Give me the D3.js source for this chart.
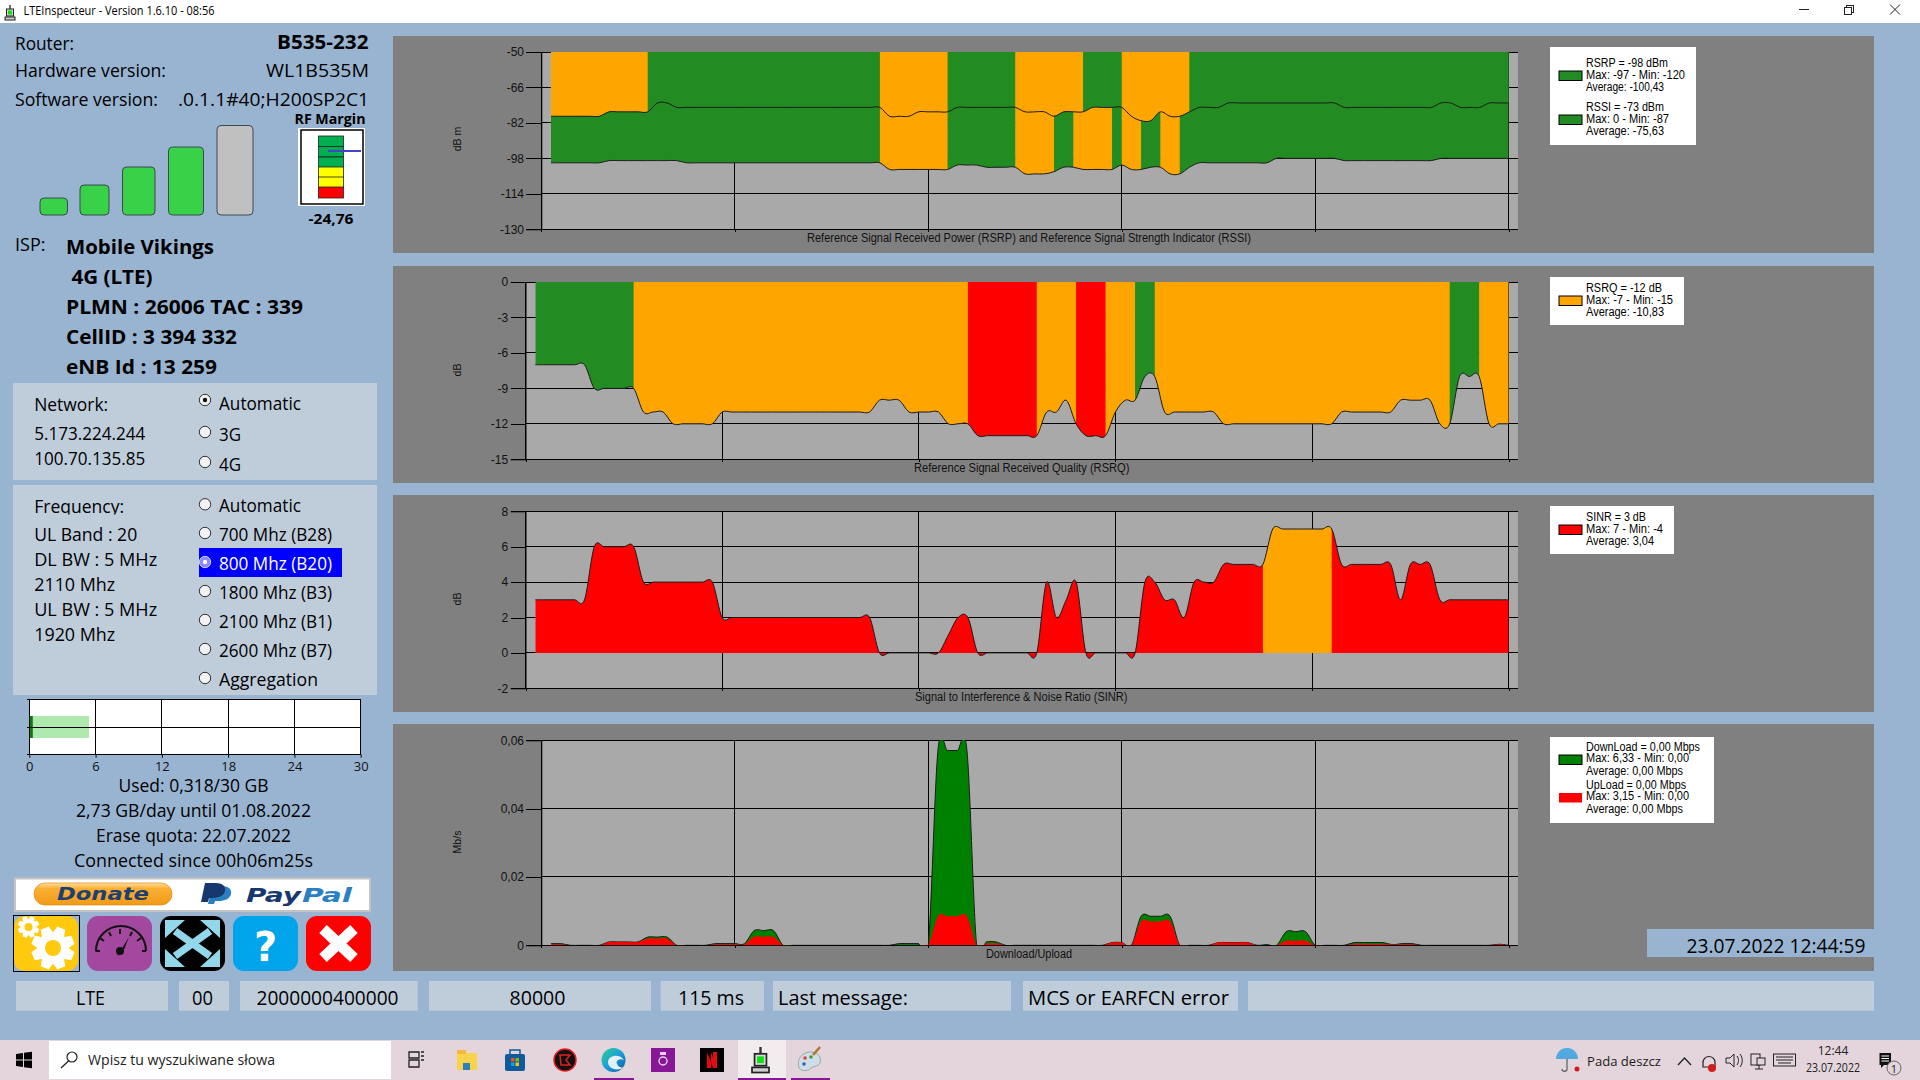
<!DOCTYPE html>
<html>
<head>
<meta charset="utf-8">
<title>LTEInspecteur</title>
<script src="https://cdn.jsdelivr.net/npm/d3@7"></script>
<style>
html,body{margin:0;padding:0;background:#99b4d1;overflow:hidden}
svg{display:block}
text{white-space:pre}
</style>
</head>
<body>
<script>
// ---------- chart data (samples 1..100) ----------
const rssi = [
 -79,-79,-79,-79,-79,-79,-77,-77,-77,-77,
 -77,-73,-73,-75,-75,-75,-75,-75,-75,-75,
 -75,-75,-75,-75,-75,-75,-75,-75,-75,-75,
 -75,-75,-75,-75,-75,-79,-79,-79,-77,-77,
 -77,-77,-75,-75,-75,-75,-75,-75,-75,-77,
 -77,-77,-79,-77,-77,-77,-75,-75,-75,-75,
 -79,-81,-81,-77,-79,-79,-77,-75,-75,-75,
 -73,-73,-73,-73,-73,-73,-73,-73,-73,-73,
 -73,-73,-75,-75,-75,-75,-75,-75,-75,-75,
 -75,-75,-73,-73,-75,-75,-75,-73,-73,-73];
const rsrp = [
 -100,-100,-100,-100,-100,-100,-99,-99,-99,-99,
 -99,-99,-99,-99,-100,-100,-100,-100,-100,-100,
 -100,-100,-100,-100,-100,-100,-100,-100,-100,-100,
 -100,-100,-100,-100,-100,-103,-103,-103,-103,-103,
 -103,-103,-101,-101,-101,-102,-102,-102,-102,-105,
 -105,-105,-104,-102,-102,-103,-103,-103,-103,-101,
 -103,-103,-102,-102,-105,-105,-102,-100,-100,-100,
 -100,-100,-100,-100,-100,-98,-98,-98,-98,-98,
 -98,-98,-99,-99,-99,-99,-99,-99,-99,-99,
 -99,-99,-98,-98,-98,-98,-98,-98,-98,-98];
const rsrq = [
 -7,-7,-7,-7,-7,-7,-9,-9,-9,-9,
 -9,-11,-11,-11,-12,-12,-12,-12,-12,-11,
 -11,-11,-11,-11,-11,-11,-11,-11,-11,-11,
 -11,-11,-11,-11,-11,-10,-10,-10,-11,-11,
 -11,-11,-12,-12,-12,-13,-13,-13,-13,-13,
 -13,-13,-11,-11,-10,-12,-13,-13,-13,-11,
 -10,-10,-8,-8,-11,-11,-11,-11,-11,-11,
 -12,-12,-12,-12,-12,-12,-12,-12,-12,-12,
 -12,-12,-11,-11,-11,-11,-11,-11,-10,-10,
 -10,-10,-12,-12,-8,-8,-8,-12,-12,-12];
const sinr = [
 3,3,3,3,3,3,6,6,6,6,
 6,4,4,4,4,4,4,4,4,2,
 2,2,2,2,2,2,2,2,2,2,
 2,2,2,2,2,0,0,0,0,0,
 0,0,1,2,2,0,0,0,0,0,
 0,0,4,2,3,4,0,0,0,0,
 0,0,4,4,3,3,2,4,4,4,
 5,5,5,5,5,7,7,7,7,7,
 7,7,5,5,5,5,5,5,3,5,
 5,5,3,3,3,3,3,3,3,3];
const download = [
 .0005,.0005,0,0,0,0,.001,.001,.001,.001,
 .0024,.0024,.0024,0,0,0,0,.0005,.0005,.0005,
 .0005,.0043,.0043,.0043,0,0,0,0,0,0,
 0,0,0,0,0,0,.0005,.0005,.0005,0,
 .057,.057,.057,.057,0,.001,.001,0,0,0,
 0,0,0,0,0,0,0,0,.0008,.0008,
 0,.0085,.0085,.0085,.0085,0,0,0,0,.0008,
 .0008,.0008,.0008,0,.0002,0,.004,.004,.004,0,
 0,0,0,.0008,.0008,.0008,.0008,.0002,.0005,.0005,
 0,0,0,0,0,0,0,0,.0003,0];
const upload = [
 .0003,.0003,0,0,0,0,.001,.001,.001,.001,
 .002,.002,.002,0,0,0,0,.0003,.0003,.0003,
 .0003,.0025,.0025,.0025,0,0,0,0,0,0,
 0,0,0,0,0,0,0,0,0,0,
 .0085,.0085,.0085,.0085,0,.0005,.0005,0,0,0,
 0,0,0,0,0,0,0,0,.0008,.0008,
 0,.007,.007,.007,.007,0,0,0,0,.0008,
 .0008,.0008,.0008,0,0,0,.0013,.0013,.0013,0,
 0,0,0,.0004,.0004,.0004,.0004,.0002,.0003,.0003,
 0,0,0,0,0,0,0,0,.0003,0];

const rsrpTicks = [-50,-66,-82,-98,-114,-130];
const rsrqTicks = [0,-3,-6,-9,-12,-15];
const sinrTicks = [8,6,4,2,0,-2];
const rateTicks = [0.06,0.04,0.02,0];
const sampleTicks = [0,20,40,60,80,100];
const quotaTicks = [0,6,12,18,24,30];
const quotaUsed = 0.318;
const quotaExpected = 5.4;

const legendRsrp = ["RSRP = -98 dBm","Max: -97 - Min: -120","Average: -100,43"];
const legendRssi = ["RSSI = -73 dBm","Max: 0 - Min: -87","Average: -75,63"];
const legendRsrq = ["RSRQ = -12 dB","Max: -7 - Min: -15","Average: -10,83"];
const legendSinr = ["SINR = 3 dB","Max: 7 - Min: -4","Average: 3,04"];
const legendDown = ["DownLoad = 0,00 Mbps","Max: 6,33 - Min: 0,00","Average: 0,00 Mbps"];
const legendUp   = ["UpLoad = 0,00 Mbps","Max: 3,15 - Min: 0,00","Average: 0,00 Mbps"];

// ---------- palette ----------
const BG="#99b4d1", BOX="#bfcddb", PANEL="#808080", PLOT="#a9a9a9";
const GOOD="#228b22", FAIR="#ffa500", BAD="#ff0000", DL="#008000", UL="#ff0000";
const UI="'Open Sans','Noto Sans',sans-serif";
const CH="'Liberation Sans',Arial,sans-serif";

const svg=d3.select("body").append("svg").attr("width",1920).attr("height",1080);
const defs=svg.append("defs");
svg.append("rect").attr("width",1920).attr("height",1080).attr("fill",BG);

function txt(p,x,y,s,o={}){
  const t=p.append("text").attr("x",x).attr("y",y).text(s)
    .attr("font-family",o.family||UI).attr("font-size",o.size||18)
    .attr("fill",o.fill||"#000").attr("text-anchor",o.anchor||"start");
  if(o.bold)t.attr("font-weight","bold");
  if(o.italic)t.attr("font-style","italic");
  if(o.len)t.attr("textLength",o.len).attr("lengthAdjust","spacingAndGlyphs");
  return t;
}
function rect(p,x,y,w,h,fill,o={}){
  const r=p.append("rect").attr("x",x).attr("y",y).attr("width",w).attr("height",h).attr("fill",fill);
  if(o.rx)r.attr("rx",o.rx);
  if(o.stroke)r.attr("stroke",o.stroke).attr("stroke-width",o.sw||1);
  return r;
}
function path(p,d,fill,o={}){
  const r=p.append("path").attr("d",d).attr("fill",fill);
  if(o.stroke)r.attr("stroke",o.stroke).attr("stroke-width",o.sw||1);
  return r;
}

// ---------- generic chart ----------
let clipId=0;
function chart(cfg){
  const g=svg.append("g");
  rect(g,393,cfg.panel[0],1481,cfg.panel[1]-cfg.panel[0],PANEL);
  const x=d3.scaleLinear().domain([0,100]).range([cfg.left,1508.7]);
  const y=d3.scaleLinear().domain(cfg.domain).range([cfg.top,cfg.bottom]);
  rect(g,cfg.left,cfg.top,1518-cfg.left,cfg.bottom-cfg.top,PLOT);
  // grid, under the areas
  const grid=g.append("g").attr("stroke","#000").attr("stroke-width",1).attr("shape-rendering","crispEdges");
  cfg.ticks.forEach(v=>grid.append("line").attr("x1",cfg.left).attr("x2",1518).attr("y1",y(v)).attr("y2",y(v)));
  sampleTicks.forEach(v=>grid.append("line").attr("x1",x(v)).attr("x2",x(v)).attr("y1",cfg.top).attr("y2",cfg.bottom));
  // plot clip
  const cid="plot"+(clipId++);
  defs.append("clipPath").attr("id",cid).append("rect")
    .attr("x",cfg.left).attr("y",cfg.top).attr("width",1518-cfg.left).attr("height",cfg.bottom-cfg.top);
  const plot=g.append("g").attr("clip-path",`url(#${cid})`);
  const curve=d3.curveCardinal.tension(0);
  cfg.layers.forEach(l=>{
    const pts=l.values.map((v,i)=>[i+1,v]);
    const area=d3.area().curve(curve).x(d=>x(d[0])).y1(d=>y(d[1])).y0(y(l.base));
    const line=d3.line().curve(curve).x(d=>x(d[0])).y(d=>y(d[1]));
    // split the area in runs of one colour; a segment takes the colour of its right point
    const n=l.values.length;
    let start=0;
    for(let i=1;i<=n;i++){
      if(i===n||l.color(l.values[i])!==l.color(l.values[start+1])){
        const c="seg"+(clipId++);
        defs.append("clipPath").attr("id",c).append("rect")
          .attr("x",x(start+1)).attr("width",x(i)-x(start+1)+(i===n?0:0.3))
          .attr("y",cfg.top-5).attr("height",cfg.bottom-cfg.top+10);
        plot.append("g").attr("clip-path",`url(#${c})`).append("path")
          .attr("d",area(pts)).attr("fill",l.color(l.values[Math.min(start+1,n-1)]));
        start=i-1;
      }
    }
    if(l.outline)plot.append("path").attr("d",line(pts)).attr("fill","none").attr("stroke","#1c1c1c").attr("stroke-width",1);
  });
  // axes
  const ax=g.append("g").attr("transform",`translate(${cfg.left},0)`)
    .call(d3.axisLeft(y).tickValues(cfg.ticks).tickSize(14.8).tickPadding(2.5).tickFormat(cfg.fmt||(d=>d)));
  ax.select(".domain").attr("stroke","#000");
  ax.selectAll("line").attr("stroke","#000").attr("shape-rendering","crispEdges");
  ax.selectAll("text").attr("font-family",CH).attr("font-size",12).attr("fill","#111");
  const bx=g.append("g").attr("transform",`translate(0,${cfg.bottom})`)
    .call(d3.axisBottom(x).tickValues(sampleTicks).tickSize(3).tickFormat(""));
  bx.select(".domain").remove();
  bx.selectAll("line").attr("stroke","#000").attr("shape-rendering","crispEdges");
  // titles
  txt(g,cfg.titleX,cfg.titleY,cfg.title,{family:CH,size:12,fill:"#111",len:cfg.titleW});
  g.append("text").attr("transform",`translate(${cfg.yTitleX},${cfg.yTitleY}) rotate(-90)`)
    .attr("text-anchor","middle").attr("font-family",CH).attr("font-size",10.5).attr("fill","#111").text(cfg.yTitle);
  // legend
  const L=cfg.legend;
  rect(g,1550,L.top,L.w,L.h,"#fff");
  L.rows.forEach(r=>{
    rect(g,1559,r.swY,23,9.5,r.color,r.border===false?{}:{stroke:"#000"});
    r.lines.forEach((s,i)=>txt(g,1586,r.base[i],s,{family:CH,size:12,fill:"#000",len:r.w[i]}));
  });
  return g;
}

const colRssi=v=>v>=-75?GOOD:FAIR;
const colRsrp=v=>v>=-102?GOOD:FAIR;
const colRsrq=v=>v>=-9?GOOD:(v>=-12?FAIR:BAD);
const colSinr=v=>v>=7?FAIR:BAD;

chart({panel:[36,253],left:541.3,top:52,bottom:229.3,domain:[-50,-130],ticks:rsrpTicks,
  layers:[{values:rsrp,base:-50,color:colRsrp,outline:true},{values:rssi,base:-50,color:colRssi,outline:true}],
  title:"Reference Signal Received Power (RSRP) and Reference Signal Strength Indicator (RSSI)",titleX:807,titleY:242,titleW:444,
  yTitle:"dB m",yTitleX:461,yTitleY:139,
  legend:{top:47,w:146,h:98,rows:[
    {color:GOOD,swY:71,lines:legendRsrp,base:[66.7,78.7,91.3],w:[82,99,78]},
    {color:GOOD,swY:115,lines:legendRssi,base:[110.7,122.7,135],w:[78,83,78]}]}});
chart({panel:[266,483],left:525.5,top:282,bottom:459.3,domain:[0,-15],ticks:rsrqTicks,
  layers:[{values:rsrq,base:0,color:colRsrq,outline:true}],
  title:"Reference Signal Received Quality (RSRQ)",titleX:914,titleY:472,titleW:215.5,
  yTitle:"dB",yTitleX:461,yTitleY:370,
  legend:{top:277,w:134,h:48,rows:[
    {color:FAIR,swY:296,lines:legendRsrq,base:[291.7,303.7,316],w:[76,87,78]}]}});
chart({panel:[495,712],left:525.5,top:511.3,bottom:688.3,domain:[8,-2],ticks:sinrTicks,
  layers:[{values:sinr,base:0,color:colSinr,outline:true}],
  title:"Signal to Interference & Noise Ratio (SINR)",titleX:915,titleY:701,titleW:212.5,
  yTitle:"dB",yTitleX:461,yTitleY:599,
  legend:{top:506,w:124,h:48,rows:[
    {color:BAD,swY:525,lines:legendSinr,base:[520.7,532.7,545],w:[60,77,68]}]}});
chart({panel:[724,971],left:541.3,top:740.3,bottom:945.3,domain:[0.06,0],ticks:rateTicks,
  fmt:d=>d===0?"0":d3.format(".2f")(d).replace(".",","),
  layers:[{values:download,base:0,color:()=>DL,outline:true},{values:upload,base:0,color:()=>UL,outline:false}],
  title:"Download/Upload",titleX:986,titleY:958,titleW:86,
  yTitle:"Mb/s",yTitleX:461,yTitleY:842,
  legend:{top:737,w:164,h:86,rows:[
    {color:DL,swY:755,lines:legendDown,base:[750.7,762.3,774.7],w:[114,103,97]},
    {color:UL,swY:793,border:false,lines:legendUp,base:[788.7,800.3,812.7],w:[100,103,97]}]}});

// ---------- title bar ----------
rect(svg,0,0,1920,23,"#fff");
function routerIcon(p,x,y,s){
  const g=p.append("g").attr("transform",`translate(${x},${y}) scale(${s})`);
  path(g,"M5 0V5","none",{stroke:"#333",sw:1.4});
  rect(g,1.5,4,7,7,"#d8d8d8",{stroke:"#222"});
  rect(g,3,5.5,4,4,"#10e010");
  rect(g,0,12,10,3,"#cfcfcf",{stroke:"#222"});
}
routerIcon(svg,5,5,1);
txt(svg,23.5,15,"LTEInspecteur - Version 1.6.10 - 08:56",{size:12,len:191});
path(svg,"M1799 9.5H1809","none",{stroke:"#222"});
rect(svg,1846.5,5.5,7,7,"none",{stroke:"#222"});
rect(svg,1844.5,7.5,7,7,"#fff",{stroke:"#222"});
path(svg,"M1890 4.5L1900 14.5M1900 4.5L1890 14.5","none",{stroke:"#222"});

// ---------- left column ----------
const L=svg.append("g");
txt(L,15,50,"Router:",{size:18,len:59});
txt(L,368.5,49,"B535-232",{size:20,bold:true,anchor:"end",len:91.5});
txt(L,15,77,"Hardware version:",{size:18,len:151});
txt(L,369,77,"WL1B535M",{size:19,anchor:"end",len:103});
txt(L,15,106,"Software version:",{size:18,len:143});
txt(L,369,106,".0.1.1#40;H200SP2C1",{size:19,anchor:"end",len:191});
txt(L,330,124,"RF Margin",{size:14,bold:true,anchor:"middle",len:71});
rect(L,298,128,67,78,"#fff");
rect(L,301,130,62,74,"#fff",{stroke:"#000",sw:1.5});
[["#00b050",136],["#00b050",146.5],["#00b050",157],["#ffff00",167],["#ffff00",177],["#ff0000",187]]
 .forEach(c=>rect(L,318.5,c[1],25,c[1]===187?11:10.5,c[0],{stroke:"#222",sw:0.8}));
path(L,"M328 151H361","none",{stroke:"#4343c4",sw:2});
txt(L,331,224,"-24,76",{size:15,bold:true,anchor:"middle",len:45});
[[40,198,27.5,17],[80,185,29,30],[122.5,167,32.5,48],[168.5,147,35,68]].forEach(b=>
  rect(L,b[0],b[1],b[2],b[3],"#38d148",{rx:4,stroke:"#3a4a50",sw:1}));
rect(L,217,125.5,36,89.5,"#c0c0c0",{rx:4,stroke:"#3a4a50",sw:1});
txt(L,15,251,"ISP:",{size:18});
txt(L,66,254,"Mobile Vikings",{size:20,bold:true,len:148});
txt(L,71.5,284,"4G (LTE)",{size:20,bold:true,len:81});
txt(L,66,314,"PLMN : 26006 TAC : 339",{size:20,bold:true,len:237});
txt(L,66,344,"CellID : 3 394 332",{size:20,bold:true,len:171});
txt(L,66,374,"eNB Id : 13 259",{size:20,bold:true,len:151});

rect(L,13,383,364,97,BOX);
rect(L,13,485,364,210,BOX);
function radio(p,y,on,sel){
  p.append("circle").attr("cx",205).attr("cy",y).attr("r",5.7)
   .attr("fill",sel?"#8a8aff":"#f2f2f2").attr("stroke",sel?"#ccd":"#333");
  if(on)p.append("circle").attr("cx",205).attr("cy",y).attr("r",2.2).attr("fill",sel?"#fff":"#111");
}
txt(L,34.2,411,"Network:",{size:17.5,len:74});
txt(L,34.2,440,"5.173.224.244",{size:17.5,len:111});
txt(L,34.2,465,"100.70.135.85",{size:17.5,len:111});
[[400,410,"Automatic",82,true],[432,441,"3G",22],[462,471,"4G",22]].forEach(r=>{
  radio(L,r[0],r[4]); txt(L,219,r[1],r[2],{size:17.5,len:r[3]});});
rect(L,199,548,143,29,"#0000ff");
L.append("clipPath").attr("id","freqClip").append("rect").attr("x",30).attr("y",490).attr("width",130).attr("height",24.5);
txt(L,34.2,512.7,"Frequency:",{size:17.5,len:90}).attr("clip-path","url(#freqClip)");
[[540.7,"UL Band : 20",103],[566,"DL BW : 5 MHz",123],[590.7,"2110 Mhz",81],[616,"UL BW : 5 MHz",123],[640.7,"1920 Mhz",81]]
 .forEach(r=>txt(L,34.2,r[0],r[1],{size:17.5,len:r[2]}));
[[504.3,512,"Automatic",82],[533,540.7,"700 Mhz (B28)",113],[562,570,"800 Mhz (B20)",113,true],[591,599,"1800 Mhz (B3)",113],
 [620,628,"2100 Mhz (B1)",113],[649,656.7,"2600 Mhz (B7)",113],[678,686,"Aggregation",99]].forEach(r=>{
  radio(L,r[0],!!r[4],!!r[4]);
  txt(L,219,r[1],r[2],{size:17.5,len:r[3],fill:r[4]?"#fff":"#000"});});

// quota chart
const qx=d3.scaleLinear().domain([0,30]).range([29.3,360.7]);
rect(L,29.3,699.3,331.4,55.4,"#fff");
rect(L,qx(0),716,qx(quotaExpected)-qx(0),22,"#aeeaae");
rect(L,qx(0),716,qx(quotaUsed)-qx(0),22,"#0f7a0f");
const qg=L.append("g").attr("stroke","#000").attr("shape-rendering","crispEdges");
quotaTicks.forEach(v=>qg.append("line").attr("x1",qx(v)).attr("x2",qx(v)).attr("y1",699.3).attr("y2",754.7));
[699.3,727.3,754.7].forEach(v=>qg.append("line").attr("x1",26.5).attr("x2",360.7).attr("y1",v).attr("y2",v));
const qa=L.append("g").attr("transform","translate(0,754.7)")
  .call(d3.axisBottom(qx).tickValues(quotaTicks).tickSize(3).tickPadding(4));
qa.select(".domain").remove();
qa.selectAll("line").attr("stroke","#000");
qa.selectAll("text").attr("font-family",UI).attr("font-size",13).attr("fill","#111");

[[791.7,"Used: 0,318/30 GB",150],[816.7,"2,73 GB/day until 01.08.2022",235],[841.7,"Erase quota: 22.07.2022",195],[866.7,"Connected since 00h06m25s",239]]
 .forEach(r=>txt(L,193.5,r[0],r[1],{size:17.5,anchor:"middle",len:r[2]}));

// donate
rect(L,15,878.5,355,32.5,"#fff",{stroke:"#c4c4c4",sw:2});
const pill=defs.append("linearGradient").attr("id","pill").attr("x1",0).attr("x2",0).attr("y1",0).attr("y2",1);
[[0,"#ffe0a0"],[0.25,"#fbb034"],[1,"#f29a17"]].forEach(s=>pill.append("stop").attr("offset",s[0]).attr("stop-color",s[1]));
rect(L,34,883,138,22,"url(#pill)",{rx:11,stroke:"#e08a10",sw:0.7});
txt(L,103,900,"Donate",{family:"'DejaVu Sans',sans-serif",size:18,bold:true,italic:true,fill:"#1d3f72",anchor:"middle",len:92});
path(L,"M208 904L212 886H222C229 886 232 890 231 894C230 899 224 901 219 901H215L214 904Z","#2a7fc0");
path(L,"M201 902L205 883H216C223 883 226 887 225 891C224 896 218 898 213 898H209L208 902Z","#17386f");
txt(L,246,902,"Pay",{family:"'DejaVu Sans',sans-serif",size:20,bold:true,italic:true,fill:"#17386f",len:55});
txt(L,302,902,"Pal",{family:"'DejaVu Sans',sans-serif",size:20,bold:true,italic:true,fill:"#2a80c4",len:50});

// buttons
function gear(p,cx,cy,ro,ri,hole,n,holeFill){
  const pts=[];
  for(let i=0;i<n;i++){
    const a=i/n*2*Math.PI+Math.PI/8, w=Math.PI/n;
    [[ri,a-w*0.95],[ro,a-w*0.5],[ro,a+w*0.5],[ri,a+w*0.95]].forEach(q=>pts.push([cx+q[0]*Math.cos(q[1]),cy+q[0]*Math.sin(q[1])]));
  }
  path(p,"M"+pts.map(q=>q.join(",")).join("L")+"Z","#fff");
  p.append("circle").attr("cx",cx).attr("cy",cy).attr("r",hole).attr("fill",holeFill);
}
rect(L,14,916,64,55,"#ffc90e",{rx:10});
rect(L,13.5,915.5,66,56,"none",{stroke:"#000"});
gear(L,53,948,22,16,8,8,"#ffc90e");
gear(L,28.5,927,11,8,4,8,"#ffc90e");

rect(L,87,916,65,55,"#a4479e",{rx:11});
const gp=L.append("g");
path(gp,"M96 951A23.5 23.5 0 0 1 146 951","none",{stroke:"#111",sw:2});
[[95.5,951,100,951],[100,938,104,941],[109,932,111,936],[120,929,120,934],[132,932,130,936],[141,938,137,941],[146,951,142,951]]
 .forEach(t=>path(gp,`M${t[0]} ${t[1]}L${t[2]} ${t[3]}`,"none",{stroke:"#111",sw:2}));
gp.append("circle").attr("cx",120).attr("cy",951).attr("r",4).attr("fill","#111");
path(gp,"M117 956L121 950L129 937L123 952Z","#111");

rect(L,160,916,65,55,"#000",{rx:11});
const ARW="#93d7ea";
path(L,"M175 931L210 956M210 931L175 956","none",{stroke:ARW,sw:7.5});
path(L,"M165 920H185L165 938Z M220 920H200L220 938Z M165 967H185L165 949Z M220 967H200L220 949Z",ARW);

rect(L,233,916,65,55,"#00a4ea",{rx:11});
txt(L,265.5,961,"?",{family:"'DejaVu Sans',sans-serif",size:40,bold:true,fill:"#fff",anchor:"middle"});

rect(L,306,916,65,55,"#ff0000",{rx:11});
path(L,"M338.5 943.5L323 929M338.5 943.5L354 929M338.5 943.5L323 958M338.5 943.5L354 958","none",{stroke:"#fff",sw:11});

// ---------- status row ----------
const S=svg.append("g");
[[16,152,"LTE",90.5,29],[179,50,"00",202.5,21],[240,177.7,"2000000400000",327.5,142],[429,222,"80000",537.5,56],[660.7,103.3,"115 ms",711,66]]
 .forEach(b=>{ rect(S,b[0],981,b[1],29.7,BOX); txt(S,b[3],1004.5,b[2],{size:19.5,anchor:"middle",len:b[4]}); });
[[773,238,"Last message:",130],[1023,215,"MCS or EARFCN error",201],[1248,626,"",0]].forEach(b=>{
  rect(S,b[0],981,b[1],29.7,BOX);
  if(b[2])txt(S,b[0]+5,1004.5,b[2],{size:19.5,len:b[3]});
});
rect(S,1647,929,227,28,BG);
txt(S,1686.5,952.5,"23.07.2022 12:44:59",{size:19.5,len:179});

// ---------- task bar ----------
const T=svg.append("g");
rect(T,0,1040,1920,40,"#e4d5dc");
rect(T,49,1041,342,38,"#fff");
path(T,"M16 1054L23 1053V1059.5H16ZM24 1052.8L32 1051.7V1059.5H24ZM16 1060.5H23V1067L16 1066ZM24 1060.5H32V1068.3L24 1067.2Z","#000");
T.append("circle").attr("cx",72).attr("cy",1057).attr("r",5).attr("fill","none").attr("stroke","#222").attr("stroke-width",1.2);
path(T,"M68.5 1061L61 1068","none",{stroke:"#222",sw:1.3});
txt(T,88,1065,"Wpisz tu wyszukiwane słowa",{size:14,fill:"#222",len:187});
// app icons
path(T,"M409 1052H419V1058H409ZM409 1060H419V1067H409ZM421 1052H424M421 1056H424M421 1060H424","none",{stroke:"#222",sw:1.3});
rect(T,457,1053,20,17,"#f9d34a",{rx:1}); rect(T,457,1050,9,4,"#f2b93a"); rect(T,463,1063,7,7,"#2a7fc0");
rect(T,505,1054,20,17,"#0f5a9c",{rx:2}); path(T,"M510 1054V1050H520V1054","none",{stroke:"#0f5a9c",sw:1.5});
rect(T,511,1058,3.5,3.5,"#f25022");rect(T,515.5,1058,3.5,3.5,"#7fba00");rect(T,511,1062.5,3.5,3.5,"#00a4ef");rect(T,515.5,1062.5,3.5,3.5,"#ffb900");
T.append("circle").attr("cx",565).attr("cy",1060).attr("r",11).attr("fill","#111").attr("stroke","#e02020").attr("stroke-width",1.5);
path(T,"M560 1055L570 1055L566 1060L570 1065L561 1065Z","none",{stroke:"#e02020",sw:1.5});
const edge=defs.append("linearGradient").attr("id","edge").attr("x1",0).attr("x2",1).attr("y1",0).attr("y2",1);
[[0,"#2fd08a"],[0.5,"#1aa0dc"],[1,"#0c59a4"]].forEach(s=>edge.append("stop").attr("offset",s[0]).attr("stop-color",s[1]));
T.append("circle").attr("cx",613.5).attr("cy",1060).attr("r",12).attr("fill","url(#edge)");
path(T,"M608 1062C608 1055 620 1053 624 1060C621 1058 615 1060 617 1064C619 1068 622 1068 624 1067C618 1072 608 1069 608 1062Z","#e4f0f8");
rect(T,651,1048,24,24,"#881798");
T.append("circle").attr("cx",663).attr("cy",1061).attr("r",4).attr("fill","none").attr("stroke","#e6d0ea").attr("stroke-width",1.4);
rect(T,660,1052,6,3,"#e6d0ea");
rect(T,700,1048,24,24,"#000");
path(T,"M707 1052H711L717 1068H713ZM707 1052V1068H711V1052ZM713 1052H717V1068H713Z","#e50914");
rect(T,738,1040,48,40,"#f2ecef");
routerIcon(T,752,1047,1.7);
rect(T,738,1078,48,2,"#881798");
rect(T,594,1078,40,2,"#881798");
rect(T,791,1078,39,2,"#881798");
path(T,"M799 1068C796 1058 803 1052 811 1052C818 1052 822 1058 820 1063C818 1067 813 1066 811 1068C809 1071 802 1072 799 1068Z","#cfdde8",{stroke:"#9aa"});
path(T,"M813 1055L820 1047","none",{stroke:"#b0762c",sw:2.5});
[[805,1058,"#e04040"],[811,1057,"#40a040"],[804,1064,"#3060c0"]].forEach(c=>T.append("circle").attr("cx",c[0]).attr("cy",c[1]).attr("r",1.8).attr("fill",c[2]));
// tray
path(T,"M1556 1059A11 11 0 0 1 1578 1059Z","#52a9e0");
path(T,"M1567 1059V1069C1567 1072 1562 1072 1562 1069","none",{stroke:"#666",sw:1.3});
T.append("circle").attr("cx",1577).attr("cy",1069).attr("r",2.5).attr("fill","#d01c1c");
txt(T,1587,1065.5,"Pada deszcz",{size:13.5,fill:"#222",len:74});
path(T,"M1678 1065L1684.5 1058L1691 1065","none",{stroke:"#222",sw:1.3});
path(T,"M1703 1063A6 6 0 0 1 1715 1062V1067H1703Z","none",{stroke:"#222",sw:1.2});
T.append("circle").attr("cx",1712).attr("cy",1068).attr("r",4).attr("fill","#d01c1c");
path(T,"M1726 1058H1730L1734 1054V1067L1730 1063H1726ZM1737 1056C1739 1059 1739 1062 1737 1065M1740 1054C1743 1058 1743 1063 1740 1067","none",{stroke:"#222"});
rect(T,1751,1054,9,11,"none",{stroke:"#222"}); rect(T,1757,1058,8,7,"#e4d5dc",{stroke:"#222"}); path(T,"M1755 1069H1763M1759 1065V1069","none",{stroke:"#222"});
rect(T,1773.5,1054,22,12,"none",{stroke:"#222"});
path(T,"M1776 1057H1793M1776 1060H1793M1778 1063H1791","none",{stroke:"#222",sw:1});
txt(T,1833,1055,"12:44",{size:12,anchor:"middle",fill:"#222"});
txt(T,1833,1072,"23.07.2022",{size:12,anchor:"middle",fill:"#222",len:54});
path(T,"M1879.5 1053H1891V1065H1884L1881 1068V1065H1879.5Z","#111");
path(T,"M1881.5 1056H1889M1881.5 1058.5H1889M1881.5 1061H1889","none",{stroke:"#fff",sw:1});
T.append("circle").attr("cx",1894).attr("cy",1068).attr("r",7).attr("fill","#e4d5dc").attr("stroke","#666");
txt(T,1894,1072.5,"1",{size:11,anchor:"middle",fill:"#222"});
</script>
</body>
</html>
